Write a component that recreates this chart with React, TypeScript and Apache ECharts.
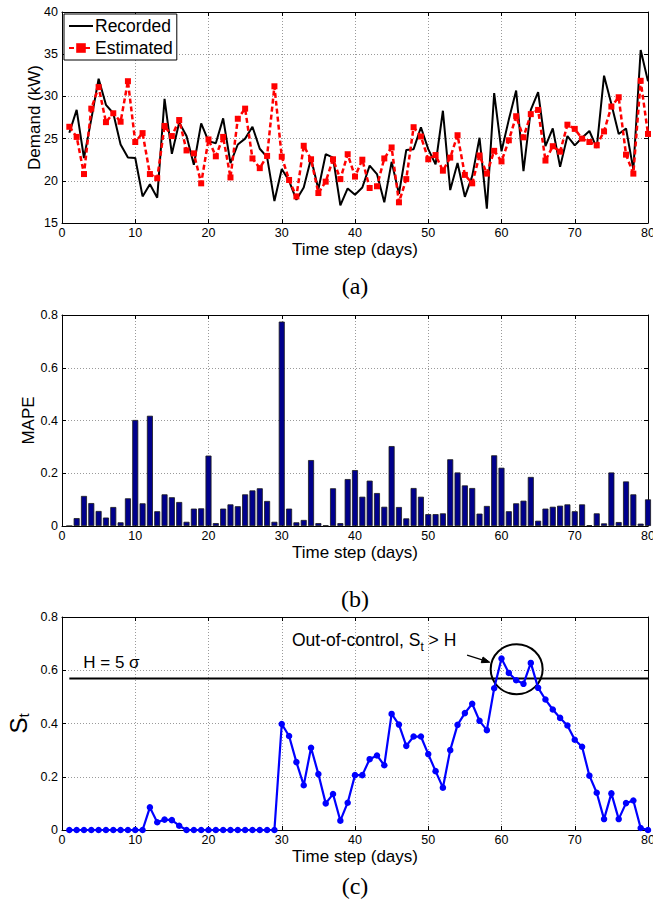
import React, { useEffect, useRef } from 'react';
import * as echarts from 'echarts';

const days = Array.from({ length: 80 }, (_, i) => i + 1);

const recorded = [
  25.7, 28.4, 22.7, 27.3, 32.1, 29.0, 28.0, 24.3, 22.75, 22.7,
  18.15, 19.6, 18.0, 29.7, 23.2, 26.9, 25.3, 21.9, 26.8, 24.7,
  24.45, 27.4, 22.1, 24.3, 25.0, 26.4, 23.8, 22.8, 17.6, 21.4,
  20.0, 17.75, 19.2, 22.65, 19.0, 23.15, 22.75, 17.1, 19.1, 18.35,
  19.2, 21.8, 20.8, 17.45, 22.25, 18.45, 23.65, 23.75, 26.35, 23.75,
  21.95, 28.3, 18.9, 22.1, 18.1, 20.55, 25.1, 16.7, 30.4, 23.5,
  27.25, 30.7, 21.15, 28.4, 30.5, 24.1, 26.2, 21.65, 25.3, 24.2,
  25.1, 25.9, 23.9, 32.45, 29.1, 25.55, 26.2, 21.35, 35.5, 31.8,
];

const estimated = [
  26.4, 25.2, 20.8, 28.55, 31.1, 26.95, 28.0, 27.0, 31.8, 24.6,
  25.65, 20.8, 20.3, 26.5, 25.3, 27.2, 23.6, 23.25, 19.7, 24.9,
  22.9, 25.2, 20.4, 27.35, 28.55, 22.65, 21.5, 22.95, 31.2, 22.85,
  20.1, 18.15, 24.15, 22.55, 18.55, 19.9, 22.55, 20.2, 23.15, 20.5,
  22.5, 19.15, 19.35, 22.65, 23.95, 17.45, 20.2, 26.35, 25.25, 22.55,
  23.05, 21.2, 22.75, 25.4, 20.7, 19.7, 23.0, 20.85, 23.55, 22.3,
  24.8, 27.65, 25.15, 27.9, 28.4, 22.4, 24.1, 23.45, 26.65, 26.15,
  25.0, 24.6, 24.2, 25.85, 28.8, 29.9, 23.1, 20.85, 31.85, 25.55,
];

const mape = [
  0, 0.03, 0.114, 0.087, 0.057, 0.032, 0.072, 0.014, 0.105, 0.402,
  0.086, 0.418, 0.056, 0.12, 0.109, 0.091, 0.016, 0.066, 0.067, 0.267,
  0.011, 0.066, 0.082, 0.075, 0.12, 0.135, 0.143, 0.095, 0.016, 0.775,
  0.066, 0.014, 0.023, 0.25, 0.011, 0.002, 0.143, 0.011, 0.178, 0.212,
  0.111, 0.172, 0.125, 0.073, 0.303, 0.072, 0.029, 0.144, 0.111, 0.045,
  0.045, 0.048, 0.253, 0.203, 0.154, 0.144, 0.047, 0.076, 0.268, 0.221,
  0.056, 0.086, 0.096, 0.186, 0.02, 0.066, 0.073, 0.077, 0.082, 0.056,
  0.082, 0.003, 0.048, 0.01, 0.203, 0.015, 0.169, 0.12, 0.009, 0.101,
];

const cusum = [
  0, 0, 0, 0, 0, 0, 0, 0, 0, 0,
  0, 0.085, 0.029, 0.039, 0.037, 0.016, 0, 0, 0, 0,
  0, 0, 0, 0, 0, 0, 0, 0, 0, 0.398,
  0.353, 0.255, 0.168, 0.309, 0.21, 0.1, 0.135, 0.035, 0.1025, 0.206,
  0.206, 0.266, 0.28, 0.243, 0.436, 0.396, 0.316, 0.351, 0.351, 0.285,
  0.221, 0.159, 0.3, 0.395, 0.439, 0.474, 0.41, 0.375, 0.5325, 0.644,
  0.59, 0.5625, 0.549, 0.6275, 0.534, 0.49, 0.4525, 0.421, 0.3925, 0.339,
  0.3125, 0.204, 0.14, 0.041, 0.1375, 0.041, 0.101, 0.111, 0.0075, 0,
];

const hLineDays = [1, 80];
const hThreshold = 0.569;

const dayTicks = [0, 10, 20, 30, 40, 50, 60, 70, 80];
const demandTicks = [15, 20, 25, 30, 35, 40];
const mapeTicks = [0, 0.2, 0.4, 0.6, 0.8];
const stTicks = [0, 0.2, 0.4, 0.6, 0.8];

const panelLabels = ['(a)', '(b)', '(c)'];

const FONT = '"Liberation Sans", Arial, Helvetica, sans-serif';
const SERIF = '"Liberation Serif", "Times New Roman", serif';

const GRID_LEFT = 62;
const GRID_WIDTH = 586;
const grids = [
  { left: GRID_LEFT, top: 12, width: GRID_WIDTH, height: 211 },
  { left: GRID_LEFT, top: 315, width: GRID_WIDTH, height: 211 },
  { left: GRID_LEFT, top: 617, width: GRID_WIDTH, height: 213 },
];
const labelY = [286, 599, 886];

const TICK_FONT = 12.5;
const axisLine = { show: true, onZero: false, lineStyle: { color: '#000', width: 1 } };
const axisTick = { show: true, inside: true, length: 4, lineStyle: { color: '#000', width: 1 } };
const splitLine = { show: true, lineStyle: { color: '#9a9a9a', type: [1, 2], width: 1 } };

function range(ticks: number[]) {
  return { min: ticks[0], max: ticks[ticks.length - 1], interval: ticks[1] - ticks[0] };
}

function xAxes(gridIndex: number) {
  const r = range(dayTicks);
  return [
    {
      type: 'value', gridIndex, position: 'bottom', ...r,
      axisLine, axisTick,
      axisLabel: { color: '#000', fontSize: TICK_FONT, lineHeight: 12, fontFamily: FONT, margin: 4 },
      splitLine,
      name: 'Time step (days)', nameLocation: 'middle', nameGap: 17, nameMoveOverlap: false,
      nameTextStyle: { fontSize: 17, lineHeight: 18, color: '#000', fontFamily: FONT },
    },
    {
      type: 'value', gridIndex, position: 'top', ...r,
      axisLine, axisTick, axisLabel: { show: false }, splitLine: { show: false },
    },
  ];
}

function yAxes(gridIndex: number, ticks: number[], name: string, nameGap: number, nameTextStyle: any) {
  const r = range(ticks);
  return [
    {
      type: 'value', gridIndex, position: 'left', ...r,
      axisLine, axisTick,
      axisLabel: { color: '#000', fontSize: TICK_FONT, fontFamily: FONT, margin: 4 },
      splitLine,
      name, nameLocation: 'middle', nameGap, nameMoveOverlap: false,
      nameTextStyle,
    },
    {
      type: 'value', gridIndex, position: 'right', ...r,
      axisLine, axisTick, axisLabel: { show: false }, splitLine: { show: false },
    },
  ];
}

export default function App() {
  const ref = useRef<HTMLDivElement>(null);

  useEffect(() => {
    document.body.style.margin = '0';
    if (!ref.current) return;
    const chart = echarts.init(ref.current, null, { renderer: 'svg' });

    const option: any = {
      animation: false,
      backgroundColor: '#fff',
      textStyle: { fontFamily: FONT },
      grid: grids.map((g) => ({ ...g, outerBoundsMode: 'none', containLabel: false })),
      xAxis: [...xAxes(0), ...xAxes(1), ...xAxes(2)],
      yAxis: [
        ...yAxes(0, demandTicks, 'Demand (kW)', 19, { fontSize: 17, color: '#000', fontFamily: FONT }),
        ...yAxes(1, mapeTicks, 'MAPE', 25, { fontSize: 17, color: '#000', fontFamily: FONT }),
        ...yAxes(2, stTicks, '{s|S}{t|t}', 31, {
          color: '#000', fontFamily: FONT,
          rich: {
            s: { fontSize: 24, lineHeight: 25, verticalAlign: 'top', color: '#000', fontFamily: FONT },
            t: { fontSize: 15, lineHeight: 15, verticalAlign: 'bottom', color: '#000', fontFamily: FONT },
          },
        }),
      ],
      legend: {
        show: true,
        left: 64, top: 14,
        orient: 'vertical',
        data: [
          { name: 'Recorded', itemStyle: { color: 'rgba(0,0,0,0)', borderWidth: 0, borderColor: 'rgba(0,0,0,0)' } },
          { name: 'Estimated' },
        ],
        backgroundColor: '#fff',
        borderColor: '#000', borderWidth: 1, borderRadius: 0,
        padding: [3, 4, 3, 4],
        itemGap: 4, itemWidth: 24, itemHeight: 12,
        textStyle: { fontSize: 17.5, color: '#000', fontFamily: FONT, padding: [0, 0, 0, -3] },
      },
      series: [
        {
          type: 'line', name: 'Recorded', xAxisIndex: 0, yAxisIndex: 0,
          data: days.map((d, i) => [d, recorded[i]]),
          symbol: 'none',
          lineStyle: { color: '#000', width: 2 }, itemStyle: { color: '#000' },
        },
        {
          type: 'line', name: 'Estimated', xAxisIndex: 0, yAxisIndex: 0,
          data: days.map((d, i) => [d, estimated[i]]),
          symbol: 'rect', symbolSize: 6,
          lineStyle: { color: '#ff0000', width: 2.5, type: [5, 3] }, itemStyle: { color: '#ff0000' },
        },
        {
          type: 'bar', name: 'MAPE', xAxisIndex: 2, yAxisIndex: 2,
          data: days.map((d, i) => [d, mape[i]]),
          barWidth: 6, clip: true,
          itemStyle: { color: '#00008c', borderColor: '#1a1a1a', borderWidth: 0.8 },
        },
        {
          type: 'line', name: 'H', xAxisIndex: 4, yAxisIndex: 4,
          data: hLineDays.map((d) => [d, hThreshold]),
          symbol: 'none',
          lineStyle: { color: '#000', width: 2 },
        },
        {
          type: 'line', name: 'St', xAxisIndex: 4, yAxisIndex: 4,
          data: days.map((d, i) => [d, cusum[i]]),
          symbol: 'circle', symbolSize: 6.5, clip: false,
          lineStyle: { color: '#0000ff', width: 2.2 }, itemStyle: { color: '#0000ff' },
        },
      ],
    };

    chart.setOption(option);

    const px = (x: number, y: number) =>
      chart.convertToPixel({ xAxisIndex: 4, yAxisIndex: 4 }, [x, y]) as number[];

    const circleC = px(62.07, 0.604);
    const hText = px(2.9, 0.63);
    const outText = px(31.4, 0.705);
    const a0 = px(55.3, 0.657);
    const a1 = px(58.4, 0.63);
    const dx = a1[0] - a0[0];
    const dy = a1[1] - a0[1];
    const len = Math.sqrt(dx * dx + dy * dy);
    const ux = dx / len;
    const uy = dy / len;
    const headL = 8;
    const headW = 3;
    const bx = a1[0] - ux * headL;
    const by = a1[1] - uy * headL;

    const cx = GRID_LEFT + GRID_WIDTH / 2;

    chart.setOption({
      graphic: [
        ...panelLabels.map((t, i) => ({
          type: 'text', x: cx, y: labelY[i], silent: true,
          style: {
            text: t, fill: '#000', fontSize: 24, fontFamily: SERIF,
            align: 'center', verticalAlign: 'middle', textAlign: 'center', textVerticalAlign: 'middle',
          },
        })),
        {
          type: 'text', x: hText[0], y: hText[1], silent: true,
          style: {
            text: 'H = 5 σ', fill: '#000', fontSize: 17, fontFamily: FONT,
            align: 'left', verticalAlign: 'middle', textAlign: 'left', textVerticalAlign: 'middle',
          },
        },
        {
          type: 'text', x: outText[0], y: outText[1], silent: true,
          style: {
            text: '{n|Out-of-control, S}{sub|t}{n| > H}',
            fill: '#000', fontSize: 17, fontFamily: FONT,
            align: 'left', verticalAlign: 'middle', textAlign: 'left', textVerticalAlign: 'middle',
            rich: {
              n: { fontSize: 17.5, fontFamily: FONT, fill: '#000', lineHeight: 22, verticalAlign: 'top' },
              sub: { fontSize: 12, fontFamily: FONT, fill: '#000', lineHeight: 12, verticalAlign: 'bottom' },
            },
          },
        },
        {
          type: 'ellipse', silent: true,
          shape: { cx: circleC[0], cy: circleC[1], rx: 26, ry: 25 },
          style: { fill: 'none', stroke: '#000', lineWidth: 2 },
        },
        {
          type: 'line', silent: true,
          shape: { x1: a0[0], y1: a0[1], x2: bx, y2: by },
          style: { stroke: '#000', lineWidth: 1.2 },
        },
        {
          type: 'polygon', silent: true,
          shape: {
            points: [
              [a1[0], a1[1]],
              [bx - uy * headW, by + ux * headW],
              [bx + uy * headW, by - ux * headW],
            ],
          },
          style: { fill: '#000', stroke: '#000', lineWidth: 1 },
        },
      ],
    });

    return () => {
      chart.dispose();
    };
  }, []);

  return <div ref={ref} style={{ width: 653, height: 901 }} />;
}
